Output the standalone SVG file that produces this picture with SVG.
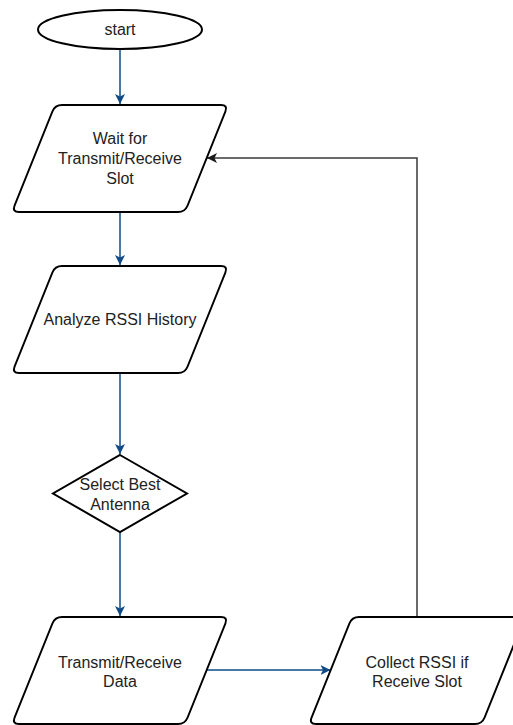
<svg xmlns="http://www.w3.org/2000/svg" width="513" height="725" viewBox="0 0 513 725">
<style>
.shape{fill:#ffffff;stroke:#000000;stroke-width:2;stroke-linejoin:round}
.lbl{font-family:"Liberation Sans",Arial,sans-serif;font-size:16px;fill:#222222;text-anchor:middle}
.flow{fill:none;stroke:#0f4a86;stroke-width:1.5}
.back{fill:none;stroke:#3a3a3a;stroke-width:1.5}
</style>
<defs>
<path id="para" d="M50,0 L209,0 Q216,0 213.4,6.5 L175.6,100.5 Q173,107 166,107 L7,107 Q0,107 2.6,100.5 L40.4,6.5 Q43,0 50,0 Z"/>
<marker id="ab" markerUnits="userSpaceOnUse" markerWidth="12" markerHeight="12" refX="10" refY="5" orient="auto">
<path d="M0,0 L10,5 L0,10 L2.5,5 Z" fill="#0f4a86"/>
</marker>
<marker id="ak" markerUnits="userSpaceOnUse" markerWidth="12" markerHeight="12" refX="10" refY="5" orient="auto">
<path d="M0,0 L10,5 L0,10 L2.5,5 Z" fill="#1a1a1a"/>
</marker>
</defs>
<g id="connectors">
<path class="flow" d="M120,49 V104" marker-end="url(#ab)"/>
<path class="flow" d="M120,212 V265" marker-end="url(#ab)"/>
<path class="flow" d="M120,373 V454" marker-end="url(#ab)"/>
<path class="flow" d="M120,532 V616" marker-end="url(#ab)"/>
<path class="flow" d="M205.7,670 H330.5" marker-end="url(#ab)"/>
<path class="back" d="M417,617 V158 H207" marker-end="url(#ak)"/>
</g>
<g id="start">
<ellipse class="shape" cx="120" cy="29.5" rx="82" ry="19.5"/>
<text class="lbl" x="120" y="35">start</text>
</g>
<g id="wait">
<use href="#para" class="shape" transform="translate(12,105)"/>
<text class="lbl" x="120" y="144">Wait for</text>
<text class="lbl" x="120" y="163.5">Transmit/Receive</text>
<text class="lbl" x="120" y="183.5">Slot</text>
</g>
<g id="analyze">
<use href="#para" class="shape" transform="translate(12,266)"/>
<text class="lbl" x="120" y="325">Analyze RSSI History</text>
</g>
<g id="select">
<path class="shape" style="stroke-linejoin:miter" d="M120,455 L187,493.5 L120,532 L53,493.5 Z"/>
<text class="lbl" x="120" y="489.5">Select Best</text>
<text class="lbl" x="120" y="510">Antenna</text>
</g>
<g id="transmit">
<use href="#para" class="shape" transform="translate(12,617)"/>
<text class="lbl" x="120" y="667.5">Transmit/Receive</text>
<text class="lbl" x="120" y="687">Data</text>
</g>
<g id="collect">
<use href="#para" class="shape" transform="translate(309,617)"/>
<text class="lbl" x="417" y="667.5">Collect RSSI if</text>
<text class="lbl" x="417" y="687">Receive Slot</text>
</g>
</svg>
